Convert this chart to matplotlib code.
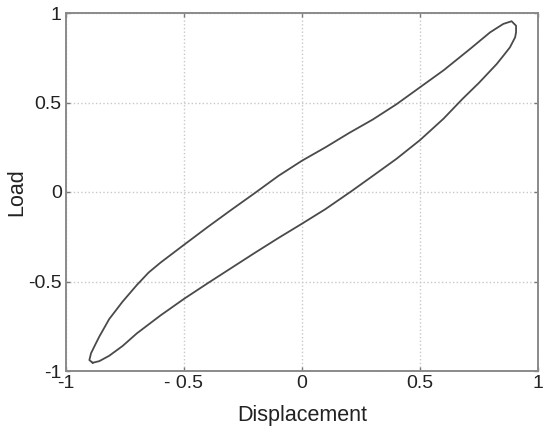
import numpy as np
import matplotlib.pyplot as plt

# loading branch (bottom-left tip -> top-right tip)
up_x = [-0.887, -0.901, -0.894, -0.875, -0.859, -0.817, -0.76, -0.70, -0.65, -0.60, -0.50,
        -0.40, -0.30, -0.20, -0.10, 0.0, 0.10, 0.20, 0.30, 0.40, 0.50, 0.60, 0.712, 0.797,
        0.853, 0.888]
up_y = [-0.954, -0.939, -0.901, -0.85, -0.808, -0.71, -0.612, -0.52, -0.45, -0.395, -0.295,
        -0.196, -0.10, -0.006, 0.09, 0.175, 0.25, 0.33, 0.405, 0.49, 0.585, 0.68, 0.799,
        0.892, 0.939, 0.954]

# unloading branch (top-right tip -> bottom-left tip)
down_x = [0.888, 0.907, 0.907, 0.903, 0.881, 0.853, 0.825, 0.75, 0.68, 0.60, 0.50, 0.40,
          0.30, 0.21, 0.10, 0.0, -0.10, -0.20, -0.30, -0.40, -0.50, -0.60, -0.70, -0.76,
          -0.817, -0.859, -0.887]
down_y = [0.954, 0.929, 0.892, 0.864, 0.808, 0.761, 0.715, 0.61, 0.52, 0.41, 0.29, 0.185,
          0.09, 0.005, -0.095, -0.177, -0.257, -0.34, -0.425, -0.51, -0.597, -0.69, -0.79,
          -0.86, -0.915, -0.945, -0.954]

xticks = [-1, -0.5, 0, 0.5, 1]
xticklabels = ['-1', '- 0.5', '0', '0.5', '1']
yticks = [-1, -0.5, 0, 0.5, 1]
yticklabels = ['-1', '-0.5', '0', '0.5', '1']

plt.rcParams['font.family'] = ['Liberation Sans', 'DejaVu Sans']

fig = plt.figure(figsize=(5.5, 4.32), dpi=100)
ax = fig.add_axes([66 / 550, 1 - 371 / 432, 472 / 550, 358 / 432])

x = np.array(up_x + down_x[1:])
y = np.array(up_y + down_y[1:])
ax.plot(x, y, color='#4a4a4a', lw=1.3, solid_joinstyle='round')

ax.set_xlim(-1, 1)
ax.set_ylim(-1, 1)
ax.set_xticks(xticks)
ax.set_xticklabels(xticklabels)
ax.set_yticks(yticks)
ax.set_yticklabels(yticklabels)
ax.grid(True, color='#c8c8c8', linestyle=':', lw=1.0)
ax.tick_params(direction='in', length=3, width=1, color='#777777',
               labelsize=14, pad=3, top=True, right=True, labelcolor='#222222')
for s in ax.spines.values():
    s.set_color('#8a8a8a')
    s.set_linewidth(1.4)

ax.set_xlabel('Displacement', fontsize=15.5, labelpad=9, color='#222222')
ax.set_ylabel('Load', fontsize=15.5, labelpad=1, color='#222222')

fig.savefig('out.png', dpi=100)
